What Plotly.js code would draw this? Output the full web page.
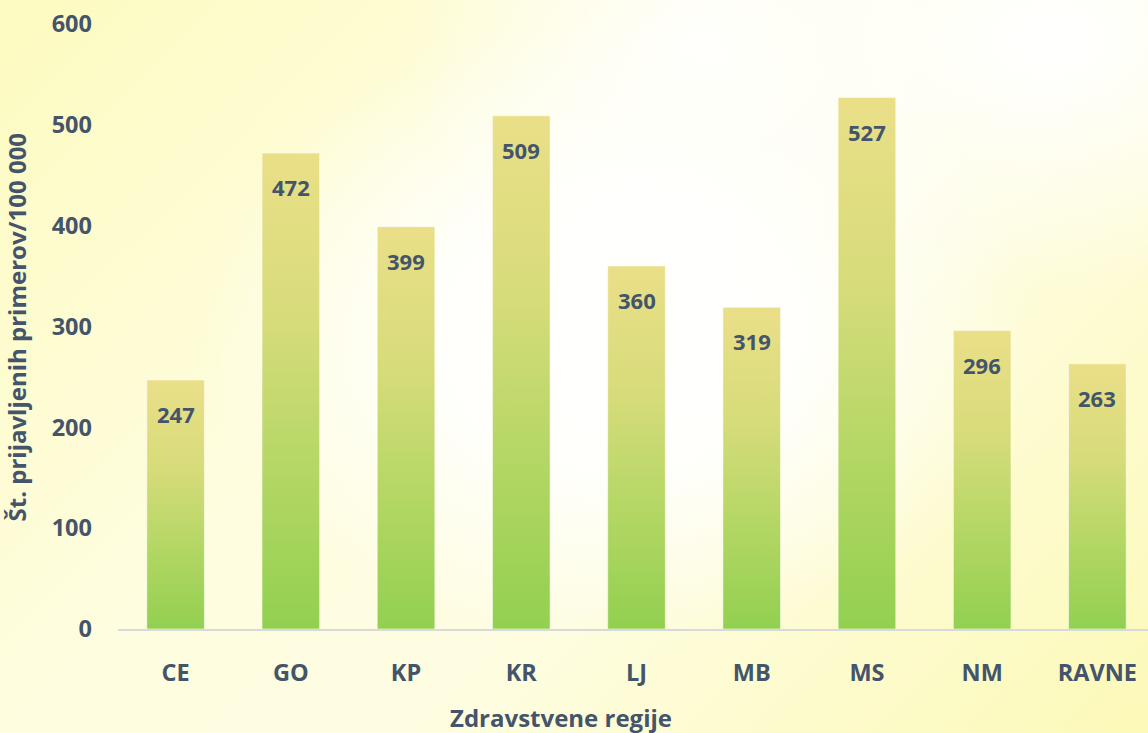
<!DOCTYPE html>
<html>
<head>
<meta charset="utf-8">
<script src="https://cdn.plot.ly/plotly-3.0.1.min.js"></script>
<style>
html,body{margin:0;padding:0;width:1148px;height:733px;overflow:hidden;}
body{
  background:
    radial-gradient(ellipse 420px 320px at 620px 330px, rgba(255,255,255,1) 0%, rgba(255,255,255,0.85) 45%, rgba(255,255,255,0) 100%),
    radial-gradient(ellipse 380px 260px at 1050px 40px, rgba(255,255,255,1) 0%, rgba(255,255,255,0) 100%),
    radial-gradient(ellipse 300px 260px at 700px 40px, rgba(255,255,255,0.9) 0%, rgba(255,255,255,0) 100%),
    linear-gradient(135deg, #fdfbc0 0%, #fefde0 40%, #fefde2 60%, #fcf9b8 100%);
}
#chart{width:1160px;height:733px;}
</style>
</head>
<body>
<div id="chart"></div>
<script>
const categories = ["CE","GO","KP","KR","LJ","MB","MS","NM","RAVNE"];
const values = [247,472,399,509,360,319,527,296,263];
const yTicks = [0,100,200,300,400,500,600];
const xTitle = "Zdravstvene regije";
const yTitle = "Št. prijavljenih primerov/100 000";

const textColor = "#44546A";
const fontFam = "'Open Sans', Lato, sans-serif";

const trace = {
  type: "bar",
  x: categories,
  y: values,
  marker: {color: "#B8D865", line: {color: "rgba(255,255,255,0.5)", width: 1}},
  hoverinfo: "none"
};

const annotations = categories.map((c, i) => ({
  x: c, y: values[i], xref: "x", yref: "y",
  text: String(values[i]), showarrow: false,
  yanchor: "top", yshift: -17,
  font: {family: fontFam, size: 22, color: textColor, weight: 700}
}));
annotations.push({
  xref: "paper", yref: "paper", x: 0.427, y: -0.147,
  text: xTitle, showarrow: false, xanchor: "center", yanchor: "middle",
  font: {family: fontFam, size: 24, color: textColor, weight: 700}
});
annotations.push({
  xref: "paper", yref: "paper", x: -0.0974, y: 0.5,
  text: yTitle, showarrow: false, xanchor: "center", yanchor: "middle",
  textangle: -90,
  font: {family: fontFam, size: 24, color: textColor, weight: 700}
});

const layout = {
  width: 1160, height: 733,
  margin: {l: 118, r: 5, t: 24, b: 104},
  paper_bgcolor: "rgba(0,0,0,0)",
  plot_bgcolor: "rgba(0,0,0,0)",
  bargap: 0.5,
  showlegend: false,
  xaxis: {
    showgrid: false, zeroline: false, showline: true,
    linecolor: "#D9D9D9", linewidth: 1.5,
    ticks: "", ticklabelstandoff: 22,
    tickfont: {family: fontFam, size: 23.5, color: textColor, weight: 700}
  },
  yaxis: {
    range: [0, 600], tickvals: yTicks, showgrid: false, zeroline: false,
    showline: false, ticks: "", ticklabelstandoff: 25,
    tickfont: {family: fontFam, size: 23.5, color: textColor, weight: 700}
  },
  annotations: annotations
};

Plotly.newPlot("chart", [trace], layout, {displayModeBar: false, staticPlot: true}).then(gd => {
  const svgNS = "http://www.w3.org/2000/svg";
  const svg = gd.querySelector("svg.main-svg");
  let defs = svg.querySelector("defs");
  if (!defs) { defs = document.createElementNS(svgNS, "defs"); svg.insertBefore(defs, svg.firstChild); }
  const g = document.createElementNS(svgNS, "linearGradient");
  g.setAttribute("id", "barGrad");
  g.setAttribute("x1", "0"); g.setAttribute("y1", "0");
  g.setAttribute("x2", "0"); g.setAttribute("y2", "1");
  [["0%", "#EADF88"], ["35%", "#D7DC7A"], ["65%", "#B6D766"], ["100%", "#92D050"]].forEach(([o, c]) => {
    const s = document.createElementNS(svgNS, "stop");
    s.setAttribute("offset", o); s.setAttribute("stop-color", c);
    g.appendChild(s);
  });
  defs.appendChild(g);
  gd.querySelectorAll(".trace.bars .point path").forEach(p => { p.style.fill = "url(#barGrad)"; });
});
</script>
</body>
</html>
